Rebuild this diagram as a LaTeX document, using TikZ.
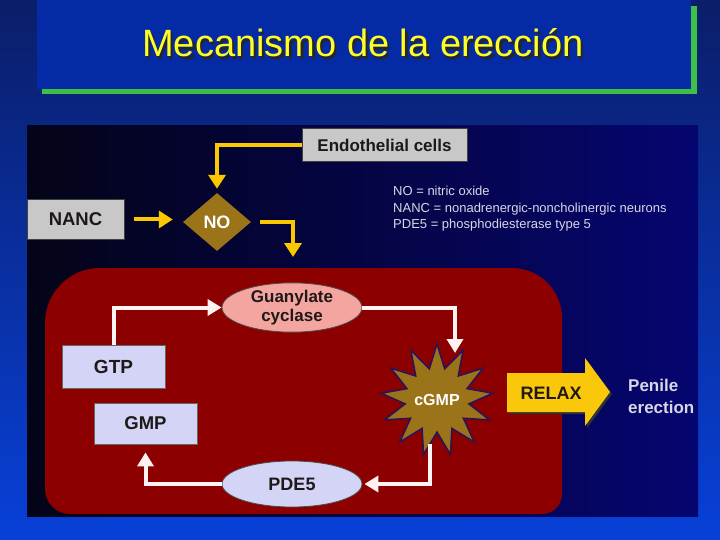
\documentclass[tikz,border=0pt]{standalone}
\usepackage{fontspec}
\setmainfont{Liberation Sans}
\usetikzlibrary{shapes.geometric,arrows.meta,calc}
\definecolor{slidetop}{RGB}{10,30,105}
\definecolor{slidebot}{RGB}{8,64,216}
\definecolor{titlebox}{RGB}{5,42,165}
\definecolor{greenline}{RGB}{60,192,70}
\definecolor{titleyellow}{RGB}{255,255,40}
\definecolor{panelleft}{RGB}{4,4,24}
\definecolor{panelright}{RGB}{5,5,112}
\definecolor{cellred}{RGB}{140,0,0}
\definecolor{boxgray}{RGB}{200,200,200}
\definecolor{lavender}{RGB}{212,212,246}
\definecolor{pinkfill}{RGB}{245,165,160}
\definecolor{brownfill}{RGB}{155,115,25}
\definecolor{arrowyellow}{RGB}{250,200,0}
\definecolor{relaxyellow}{RGB}{250,200,10}
\definecolor{darktext}{RGB}{30,25,25}
\definecolor{legendgray}{RGB}{215,215,230}
\definecolor{starline}{RGB}{40,20,90}
\definecolor{whitearrow}{RGB}{255,242,242}
\tikzset{
  graybox/.style={rectangle, fill=boxgray, draw=black!75, line width=1pt, inner sep=0pt,
    font=\bfseries\fontsize{17}{20}\selectfont, text=darktext},
  lavbox/.style={rectangle, fill=lavender, draw=black!60, line width=0.8pt, inner sep=0pt,
    font=\bfseries\fontsize{19}{22}\selectfont, text=darktext},
  oval/.style={ellipse, draw=black!70, line width=0.8pt, inner sep=0pt,
    minimum width=140pt, text=darktext, align=center},
  yarrow/.style={draw=arrowyellow, line width=4pt, -{Triangle[length=14pt,width=17pt]}},
  warrow/.style={draw=whitearrow, line width=4pt, -{Triangle[length=14pt,width=16pt]}},
}
\begin{document}
\begin{tikzpicture}[x=1pt,y=-1pt]
\useasboundingbox (0,0) rectangle (720,540);
% slide background
\fill[top color=slidetop, bottom color=slidebot] (0,0) rectangle (720,540);
% title box
\fill[titlebox] (37,0) rectangle (691,89);
\fill[greenline] (42,89) rectangle (697,94);
\fill[greenline] (691,6) rectangle (697,94);
\node[text=black!85, font=\fontsize{38}{44}\selectfont] (titleshadow) at (365.5,45.5) {Mecanismo de la erección};
\node[text=titleyellow, font=\fontsize{38}{44}\selectfont] (title) at (363,43) {Mecanismo de la erección};
% image panel
\fill[left color=panelleft, right color=panelright] (27,126) rectangle (698,516);
% red cell
\fill[cellred] (300,514) [rounded corners=25pt] -- (45,514) [rounded corners=55pt] -- (45,268) [rounded corners=50pt] -- (562,268) [rounded corners=20pt] -- (562,514) -- cycle;
% top nodes
\node[graybox, minimum width=165pt, minimum height=33pt] (endo) at (384.5,145.5) {Endothelial cells};
\node[graybox, minimum width=97pt, minimum height=39pt, font=\bfseries\fontsize{18.5}{22}\selectfont] (nanc) at (75.5,219.5) {NANC};
\node[diamond, aspect=1.15, fill=brownfill, inner sep=0pt, minimum width=68pt, minimum height=58pt,
  text=white, font=\bfseries\fontsize{18}{21}\selectfont] (no) at (217,222) {NO};
\coordinate (noout) at (293,257);
\draw[yarrow, shorten >=4pt] (endo.west) -| (no.north);
\draw[yarrow, shorten <=9pt, shorten >=10pt] (nanc.east) -- (nanc.east -| no.west);
\draw[yarrow, shorten <=9pt] (no.east) -| (noout);
% legend
\node[anchor=north west, align=left, text=legendgray, inner sep=0pt,
  font=\fontsize{13}{16.5}\selectfont] (legend) at (393,186)
  {NO = nitric oxide\\NANC = nonadrenergic-noncholinergic neurons\\PDE5 = phosphodiesterase type 5};
% cycle nodes
\node[oval, fill=pinkfill, minimum height=45pt, font=\bfseries\fontsize{17}{19}\selectfont] (gc) at (292,307.5) {Guanylate\\cyclase};
\node[lavbox, minimum width=103pt, minimum height=43pt] (gtp) at (113.5,366.5) {GTP};
\node[lavbox, minimum width=103pt, minimum height=41pt, font=\bfseries\fontsize{18.5}{22}\selectfont] (gmp) at (145.5,423.5) {GMP};
\node[oval, fill=lavender, minimum height=46pt, font=\bfseries\fontsize{18}{21}\selectfont] (pde) at (292,484) {PDE5};
\node[star, star points=13, star point ratio=1.75, minimum size=94pt, inner sep=0pt, fill=brownfill,
  draw=starline, line width=1.5pt, text=white, font=\bfseries\fontsize{16}{19}\selectfont] (cgmp) at (437,400) {cGMP};
\coordinate (cgmpin) at (455,353);
\coordinate (cgmpout) at (430,444);
% white arrows
\draw[warrow] (gtp.north) |- (gc.west);
\draw[warrow] (gc.east) -| (cgmpin);
\draw[warrow, shorten >=2pt] (cgmpout) |- (pde.east);
\draw[warrow, shorten >=8pt] (pde.west) -| (gmp.south);
% RELAX arrow
\fill[black!80] (509,375) -- (587,375) -- (587,360) -- (612,394) -- (587,428) -- (587,414) -- (509,414) -- cycle;
\fill[relaxyellow] (507,373) -- (585,373) -- (585,358) -- (610,392) -- (585,426) -- (585,412) -- (507,412) -- cycle;
\node[text=darktext, font=\bfseries\fontsize{18}{21}\selectfont] (relax) at (551,393) {RELAX};
% penile erection
\node[anchor=west, align=left, text=legendgray, inner sep=0pt,
  font=\bfseries\fontsize{17}{22}\selectfont] (penile) at (628,396) {Penile\\erection};
\end{tikzpicture}
\end{document}
